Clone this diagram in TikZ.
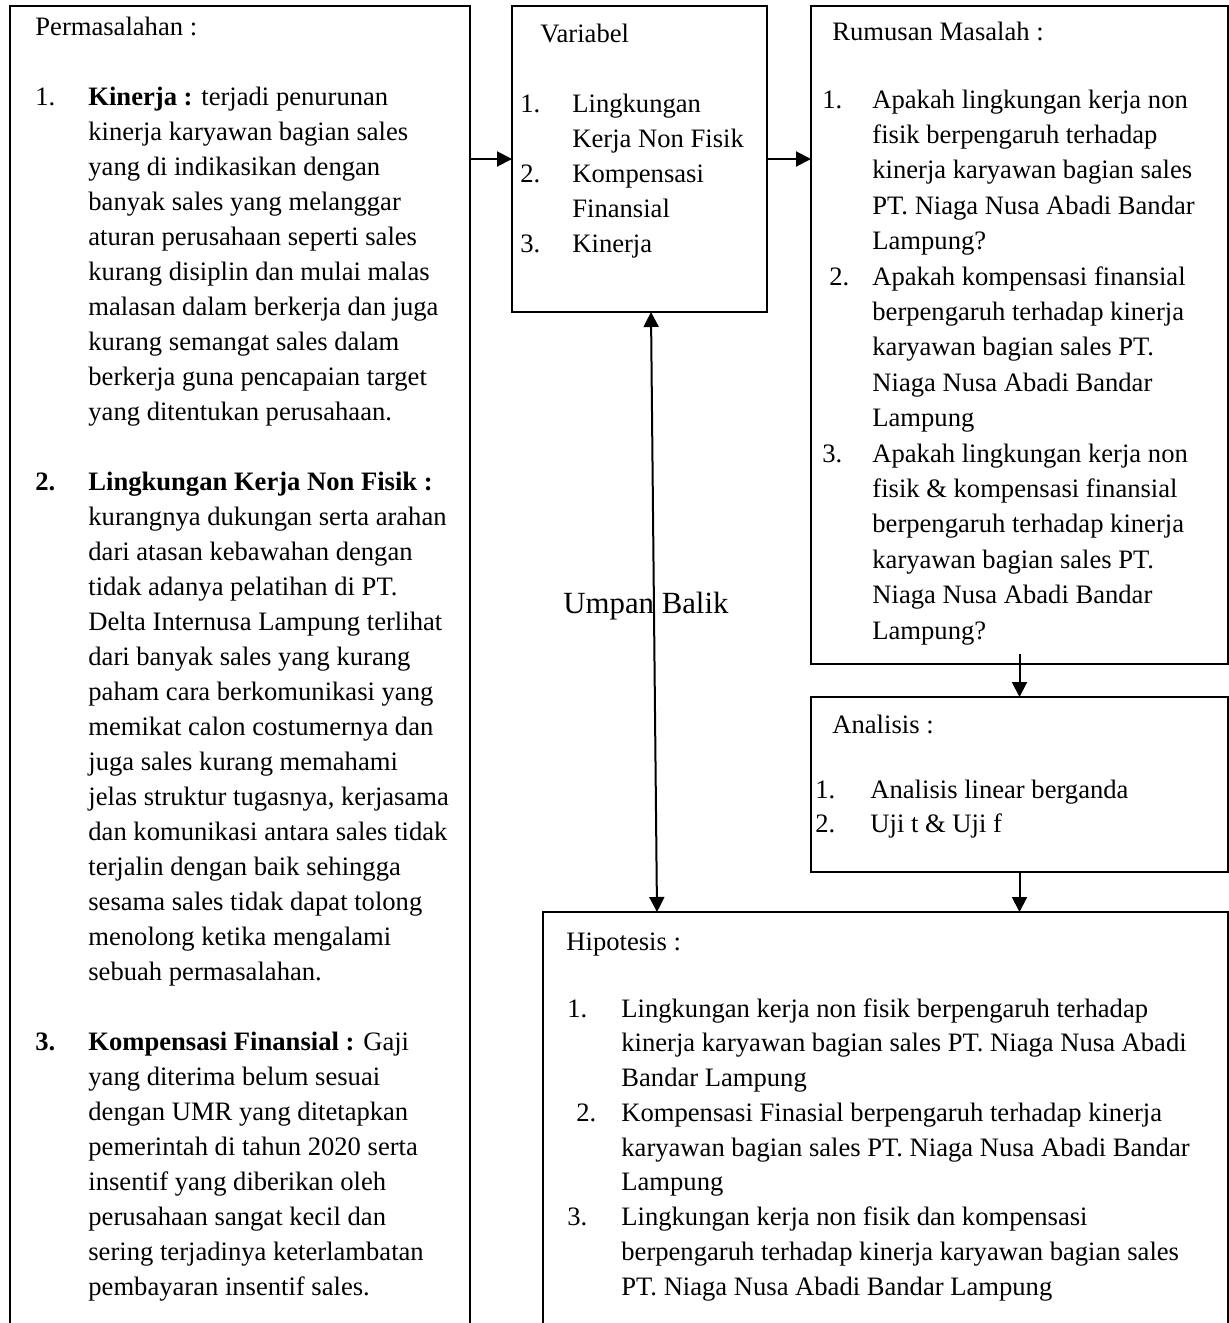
\documentclass[tikz,border=0pt]{standalone}
\usepackage{fontspec}
\setmainfont{Liberation Serif}
\usetikzlibrary{arrows.meta}
\tikzset{
  bx/.style={draw, line width=0.75pt, rectangle, inner sep=0pt, outer sep=0pt},
  openbx/.style={draw=none, rectangle, inner sep=0pt, outer sep=0pt},
  txt/.style={anchor=base west, inner sep=0pt, font=\fontsize{13.3}{17.5}\selectfont},
  big/.style={anchor=base west, inner sep=0pt, font=\fontsize{15.4}{18}\selectfont},
  arr/.style={line width=1pt, -{Triangle[length=7.5pt,width=7.5pt]}},
  dblarr/.style={line width=1pt, {Triangle[length=7.5pt,width=7.5pt]}-{Triangle[length=7.5pt,width=7.5pt]}}
}
\newcommand{\blk}[5]{\foreach \tx [count=\ii from 0] in {#5}{\node[txt] (#1-\ii) at (#2,{#3+\ii*#4}) {\tx};}}
\begin{document}
\begin{tikzpicture}[x=0.5pt,y=-0.5pt]
\useasboundingbox (0,0) rectangle (1229,1323);
% boxes
\node[openbx, minimum width=230pt, minimum height=667pt] (perm) at (240,673) {};
\draw[line width=0.75pt] (perm.south west) |- (perm.north east) -- (perm.south east);
\node[bx, minimum width=127.5pt, minimum height=153pt] (var) at (639.5,159) {};
\node[bx, minimum width=208.5pt, minimum height=329pt] (rum) at (1019.5,335) {};
\node[bx, minimum width=208.5pt, minimum height=87.5pt] (ana) at (1019.5,784.5) {};
\node[openbx, minimum width=342.5pt, minimum height=214pt] (hip) at (885.5,1126) {};
\draw[line width=0.75pt] (hip.south west) |- (hip.north east) -- (hip.south east);

% Permasalahan
\node[txt] (permt) at (35,35) {Permasalahan :};
\node[txt] (pn1) at (35,105) {1.};
\node[txt] (pn2) at (35,490) {\textbf{2.}};
\node[txt] (pn3) at (35,1050) {\textbf{3.}};
\blk{pa}{88}{105}{35}{{\textbf{Kinerja :} terjadi penurunan},{kinerja karyawan bagian sales},{yang di indikasikan dengan},{banyak sales yang melanggar},{aturan perusahaan seperti sales},{kurang disiplin dan mulai malas},{malasan dalam berkerja dan juga},{kurang semangat sales dalam},{berkerja guna pencapaian target},{yang ditentukan perusahaan.}}
\blk{pb}{88}{490}{35}{{\textbf{Lingkungan Kerja Non Fisik :}},{kurangnya dukungan serta arahan},{dari atasan kebawahan dengan},{tidak adanya pelatihan di PT.},{Delta Internusa Lampung terlihat},{dari banyak sales yang kurang},{paham cara berkomunikasi yang},{memikat calon costumernya dan},{juga sales kurang memahami},{jelas struktur tugasnya, kerjasama},{dan komunikasi antara sales tidak},{terjalin dengan baik sehingga},{sesama sales tidak dapat tolong},{menolong ketika mengalami},{sebuah permasalahan.}}
\blk{pc}{88}{1050}{35}{{\textbf{Kompensasi Finansial :} Gaji},{yang diterima belum sesuai},{dengan UMR yang ditetapkan},{pemerintah di tahun 2020 serta},{insentif yang diberikan oleh},{perusahaan sangat kecil dan},{sering terjadinya keterlambatan},{pembayaran insentif sales.}}

% Variabel
\node[txt] (vart) at (540,42) {Variabel};
\node[txt] (vn1) at (520,112) {1.};
\node[txt] (vn2) at (520,182) {2.};
\node[txt] (vn3) at (520,252) {3.};
\blk{va}{572}{112}{35}{{Lingkungan},{Kerja Non Fisik},{Kompensasi},{Finansial},{Kinerja}}

% Rumusan
\node[txt] (rumt) at (832,40) {Rumusan Masalah :};
\node[txt] (rn1) at (822,108) {1.};
\node[txt] (rn2) at (829,285) {2.};
\node[txt] (rn3) at (822,462) {3.};
\blk{ra}{872}{108}{35.4}{{Apakah lingkungan kerja non},{fisik berpengaruh terhadap},{kinerja karyawan bagian sales},{PT. Niaga Nusa Abadi Bandar},{Lampung?},{Apakah kompensasi finansial},{berpengaruh terhadap kinerja},{karyawan bagian sales PT.},{Niaga Nusa Abadi Bandar},{Lampung},{Apakah lingkungan kerja non},{fisik \& kompensasi finansial},{berpengaruh terhadap kinerja},{karyawan bagian sales PT.},{Niaga Nusa Abadi Bandar},{Lampung?}}

% Analisis
\node[txt] (anat) at (832,733) {Analisis :};
\node[txt] (an1) at (815,798) {1.};
\node[txt] (an2) at (815,832) {2.};
\node[txt] (ana1) at (870,798) {Analisis linear berganda};
\node[txt] (ana2) at (870,832) {Uji t \& Uji f};

% Hipotesis
\node[txt] (hipt) at (566,950) {Hipotesis :};
\node[txt] (hn1) at (567,1017) {1.};
\node[txt] (hn2) at (576,1121.25) {2.};
\node[txt] (hn3) at (567,1225.5) {3.};
\blk{ha}{621}{1017}{34.75}{{Lingkungan kerja non fisik berpengaruh terhadap},{kinerja karyawan bagian sales PT. Niaga Nusa Abadi},{Bandar Lampung},{Kompensasi Finasial berpengaruh terhadap kinerja},{karyawan bagian sales PT. Niaga Nusa Abadi Bandar},{Lampung},{Lingkungan kerja non fisik dan kompensasi},{berpengaruh terhadap kinerja karyawan bagian sales},{PT. Niaga Nusa Abadi Bandar Lampung}}

% connectors
\draw[arr] (perm.east |- var.west) -- (var.west);
\draw[arr] (var.east) -- (rum.west |- var.east);
\draw[dblarr] ([xshift=5.75pt]var.south) -- ([xshift=-114.25pt]hip.north);
\draw[arr] ([yshift=5pt]rum.south) -- (ana.north);
\draw[arr] (ana.south) -- (ana.south |- hip.north);

\node[big] (umpan) at (563,613) {Umpan Balik};
\end{tikzpicture}
\end{document}
